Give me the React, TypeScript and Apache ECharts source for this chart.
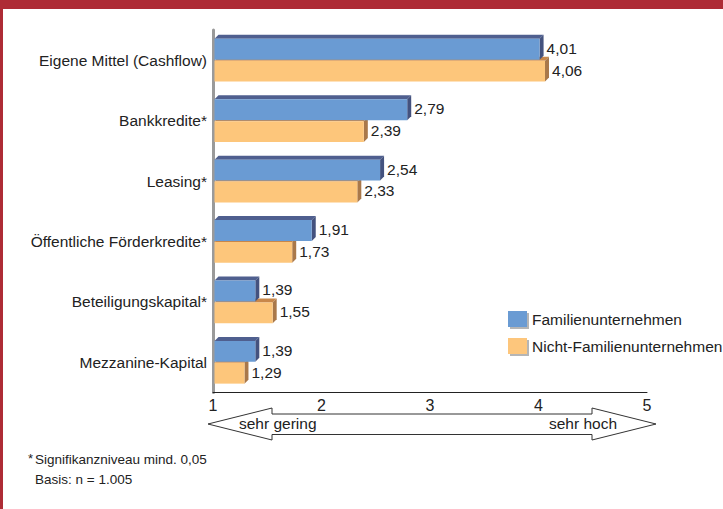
import React, { useEffect, useRef } from "react";
import * as echarts from "echarts";

const categories = [
  "Eigene Mittel (Cashflow)",
  "Bankkredite*",
  "Leasing*",
  "Öffentliche Förderkredite*",
  "Beteiligungskapital*",
  "Mezzanine-Kapital",
];
const familienValues = [4.01, 2.79, 2.54, 1.91, 1.39, 1.39];
const nichtFamilienValues = [4.06, 2.39, 2.33, 1.73, 1.55, 1.29];
const seriesNames = ["Familienunternehmen", "Nicht-Familienunternehmen"];
const xTicks = [1, 2, 3, 4, 5];
const scaleLabels = ["sehr gering", "sehr hoch"];
const footnotes = ["Signifikanzniveau mind. 0,05", "Basis: n = 1.005"];

const FONT = "'Liberation Sans', Arial, sans-serif";

const fmt = (v: number) => v.toFixed(2).replace(".", ",");

function makeRender(which: number, body: string, top: string, side: string) {
  return (params: any, api: any) => {
    const v = api.value(0);
    const cat = api.value(1);
    const start = api.coord([1, cat]);
    const end = api.coord([v, cat]);
    const band = api.size([0, 1])[1];
    const bh = band * 0.345;
    const y0 = which === 0 ? start[1] - bh - 0.5 : start[1] + 0.5;
    const x0 = start[0] + 1.5;
    const x1 = end[0];
    const d = 4;
    return {
      type: "group",
      children: [
        {
          type: "polygon",
          shape: { points: [[x0, y0], [x0 + d, y0 - d], [x1 + d, y0 - d], [x1, y0]] },
          style: { fill: top },
        },
        {
          type: "polygon",
          shape: { points: [[x1, y0], [x1 + d, y0 - d], [x1 + d, y0 + bh - d], [x1, y0 + bh]] },
          style: { fill: side },
        },
        {
          type: "rect",
          shape: { x: x0, y: y0, width: x1 - x0, height: bh },
          style: { fill: body },
        },
        {
          type: "text",
          x: x1 + d + 3,
          y: y0 + bh / 2 - 1,
          style: {
            text: fmt(v),
            fill: "#222",
            font: `15.5px ${FONT}`,
            textAlign: "left",
            textVerticalAlign: "middle",
          },
        },
      ],
    };
  };
}

export default function App() {
  const ref = useRef<HTMLDivElement>(null);
  useEffect(() => {
    document.body.style.margin = "0";
    const chart = echarts.init(ref.current!, null, { renderer: "svg" });
    const famData = familienValues.map((v, i) => [v, i]);
    const nichtData = nichtFamilienValues.map((v, i) => [v, i]);
    chart.setOption({
      animation: false,
      backgroundColor: "#fff",
      textStyle: { fontFamily: FONT },
      grid: { left: 213, right: 76, top: 30, bottom: 116.5 },
      xAxis: {
        type: "value",
        min: 1,
        max: 5,
        interval: 1,
        axisLine: { show: true, lineStyle: { color: "#222", width: 1 } },
        axisTick: { show: false },
        splitLine: { show: false },
        axisLabel: {
          color: "#222",
          fontSize: 16,
          fontFamily: FONT,
          margin: 5,
          formatter: (v: number) => (xTicks.includes(v) ? String(v) : ""),
        },
      },
      yAxis: {
        type: "category",
        data: categories,
        inverse: true,
        axisLine: { show: true, lineStyle: { color: "#9a9a9a", width: 3 } },
        axisTick: { show: false },
        axisLabel: { color: "#222", fontSize: 15.5, fontFamily: FONT, margin: 6 },
      },
      legend: {
        orient: "vertical",
        left: 503,
        top: 306,
        itemWidth: 19,
        itemHeight: 16,
        itemGap: 11,
        icon: "rect",
        data: seriesNames,
        textStyle: { color: "#222", fontSize: 15.5, fontFamily: FONT, padding: [2, 0, 0, 0] },
        itemStyle: { shadowColor: "#b5b5b5", shadowOffsetX: 2, shadowOffsetY: 2, shadowBlur: 0 },
      },
      series: [
        {
          type: "custom",
          name: seriesNames[0],
          z: 3,
          itemStyle: { color: "#6a9bd3" },
          encode: { x: 0, y: 1 },
          data: famData,
          renderItem: makeRender(0, "#6a9bd3", "#4f5f8f", "#44527e"),
        },
        {
          type: "custom",
          name: seriesNames[1],
          z: 2,
          itemStyle: { color: "#fdc67b" },
          encode: { x: 0, y: 1 },
          data: nichtData,
          renderItem: makeRender(1, "#fdc67b", "#c8874a", "#a9784a"),
        },
      ],
      graphic: [
        { type: "rect", left: 0, top: 0, shape: { width: 723, height: 9 }, style: { fill: "#ae2b35" } },
        { type: "rect", left: 0, top: 0, shape: { width: 3, height: 509 }, style: { fill: "#ae2b35" } },
        {
          type: "polygon",
          shape: {
            points: [
              [208, 424], [272, 408], [272, 414], [592, 414], [592, 408],
              [656, 424], [592, 440], [592, 434.5], [272, 434.5], [272, 440],
            ],
          },
          style: { fill: "#fff", stroke: "#333", lineWidth: 1 },
        },
        {
          type: "text",
          left: 239,
          top: 415,
          style: { text: scaleLabels[0], fill: "#222", font: `15.5px ${FONT}` },
        },
        {
          type: "text",
          left: 549,
          top: 415,
          style: { text: scaleLabels[1], fill: "#222", font: `15.5px ${FONT}` },
        },
        {
          type: "text",
          left: 28,
          top: 452,
          style: { text: "*", fill: "#222", font: `13px ${FONT}` },
        },
        {
          type: "text",
          left: 35,
          top: 452,
          style: { text: footnotes[0], fill: "#222", font: `13.5px ${FONT}` },
        },
        {
          type: "text",
          left: 35,
          top: 472,
          style: { text: footnotes[1], fill: "#222", font: `13.5px ${FONT}` },
        },
      ],
    });
    return () => chart.dispose();
  }, []);
  return (
    <div
      ref={ref}
      style={{ position: "absolute", left: 0, top: 0, width: 723, height: 509 }}
    />
  );
}
